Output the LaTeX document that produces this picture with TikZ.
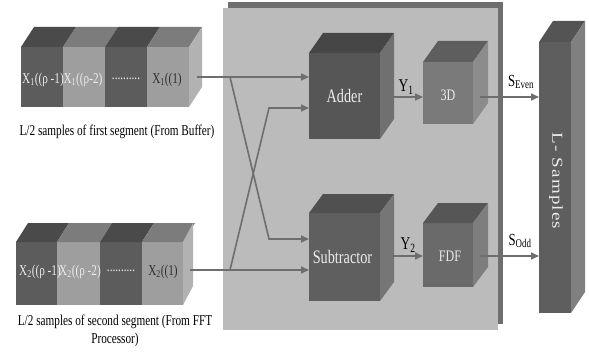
\documentclass[tikz,border=0pt]{standalone}
\usepackage{fontspec}
\usepackage{graphicx}
\setmainfont{Liberation Serif}[FakeStretch=0.75]
\newfontfamily\plainserif{Liberation Serif}[LetterSpace=6]
\usetikzlibrary{arrows.meta,calc}
\definecolor{framefront}{HTML}{BBBBBB}
\definecolor{frameback}{HTML}{6E6E6E}
\definecolor{segdark}{HTML}{5C5C5C}
\definecolor{seglight}{HTML}{9E9E9E}
\definecolor{segdarktop}{HTML}{4A4A4A}
\definecolor{seglighttop}{HTML}{7C7C7C}
\definecolor{segside}{HTML}{B2B2B2}
\definecolor{addfront}{HTML}{565656}
\definecolor{addtop}{HTML}{464646}
\definecolor{addside}{HTML}{707070}
\definecolor{subfront}{HTML}{5F5F5F}
\definecolor{subtop}{HTML}{505050}
\definecolor{subside}{HTML}{767676}
\definecolor{tdfront}{HTML}{7A7A7A}
\definecolor{tdtop}{HTML}{5E5E5E}
\definecolor{tdside}{HTML}{8C8C8C}
\definecolor{fdffront}{HTML}{6A6A6A}
\definecolor{fdftop}{HTML}{565656}
\definecolor{fdfside}{HTML}{7E7E7E}
\definecolor{lfront}{HTML}{5E5E5E}
\definecolor{ltop}{HTML}{545454}
\definecolor{lside}{HTML}{808080}
\definecolor{arrowgray}{HTML}{6E6E6E}
\definecolor{lighttext}{HTML}{ECECEC}
\definecolor{darktext}{HTML}{2E2E2E}
\newcommand\topface[4]{%
  \fill[#4] (#1.north west) -- ++(#2,#3) -- ([shift={(#2,#3)}]#1.north east) -- (#1.north east) -- cycle;}
\newcommand\sideface[4]{%
  \fill[#4] (#1.north east) -- ++(#2,#3) -- ([shift={(#2,#3)}]#1.south east) -- (#1.south east) -- cycle;}
\begin{document}
\begin{tikzpicture}[x=1pt,y=-1pt,
  face/.style={rectangle,inner sep=0pt,outer sep=0pt,anchor=north west,draw=none},
  segtext/.style={inner sep=0pt,font=\fontsize{15}{15}\selectfont},
  boxtext/.style={text=lighttext,font=\fontsize{19}{19}\selectfont},
  lbl/.style={inner sep=0pt,text=black,font=\fontsize{15}{18}\selectfont,align=center},
  sig/.style={inner sep=0pt,text=black,font=\fontsize{18}{18}\selectfont},
  arr/.style={draw=arrowgray,line width=1.6pt,-{Triangle[length=8pt,width=7pt]}},
  wire/.style={draw=arrowgray,line width=1.6pt}]
\useasboundingbox (0,0) rectangle (589,353);
\fill[white] (0,0) rectangle (589,353);

% big frame (3D slab)
\fill[frameback] (228,2) rectangle (503,324);
\node[face,fill=framefront,minimum width=275,minimum height=322] (frame) at (223,8) {};

% stack 1
\node[face,fill=segdark,minimum width=42,minimum height=60] (s11) at (21,47) {};
\node[face,fill=seglight,minimum width=42,minimum height=60] (s12) at (63,47) {};
\node[face,fill=segdark,minimum width=42,minimum height=60] (s13) at (105,47) {};
\node[face,fill=seglight,minimum width=42,minimum height=60] (s14) at (147,47) {};
\topface{s11}{13}{-20}{segdarktop}
\topface{s12}{13}{-20}{seglighttop}
\topface{s13}{13}{-20}{segdarktop}
\topface{s14}{13}{-20}{seglighttop}
\sideface{s14}{13}{-20}{segside}
\node[segtext,text=lighttext] (t11) at (43,80) {X\textsubscript{1}((ρ -1)};
\node[segtext,text=lighttext] (t12) at (83,80) {X\textsubscript{1}((ρ-2)};
\node[segtext,text=lighttext] (t13) at (126,79) {..........};
\node[segtext,text=darktext] (t14) at (167,80) {X\textsubscript{1}((1)};
\node[lbl] (lab1) at (117,132) {L/2 samples of first segment (From Buffer)};

% stack 2
\node[face,fill=segdark,minimum width=41,minimum height=63] (s21) at (16,242) {};
\node[face,fill=seglight,minimum width=43,minimum height=63] (s22) at (57,242) {};
\node[face,fill=segdark,minimum width=42,minimum height=63] (s23) at (100,242) {};
\node[face,fill=seglight,minimum width=41,minimum height=63] (s24) at (142,242) {};
\topface{s21}{12}{-19}{segdarktop}
\topface{s22}{12}{-19}{seglighttop}
\topface{s23}{12}{-19}{segdarktop}
\topface{s24}{12}{-19}{seglighttop}
\sideface{s24}{10}{-19}{segside}
\node[segtext,text=lighttext] (t21) at (40,272) {X\textsubscript{2}((ρ -1)};
\node[segtext,text=lighttext] (t22) at (80,272) {X\textsubscript{2}((ρ -2)};
\node[segtext,text=lighttext] (t23) at (121,271) {..........};
\node[segtext,text=darktext] (t24) at (163,272) {X\textsubscript{2}((1)};
\node[lbl] (lab2) at (115,331) {L/2 samples of second segment (From FFT\\Processor)};

% adder
\node[face,fill=addfront,minimum width=71,minimum height=86] (adder) at (309,53) {};
\topface{adder}{14}{-20}{addtop}
\sideface{adder}{14}{-20}{addside}
\node[boxtext] at (adder.center) {Adder};

% subtractor
\node[face,fill=subfront,minimum width=71,minimum height=88] (sub) at (309,213) {};
\topface{sub}{14}{-19}{subtop}
\sideface{sub}{14}{-19}{subside}
\node[boxtext] at ($(sub.center)+(-2,0)$) {Subtractor};

% 3D
\node[face,fill=tdfront,minimum width=50,minimum height=62] (td) at (423,62) {};
\topface{td}{15}{-21}{tdtop}
\sideface{td}{15}{-21}{tdside}
\node[boxtext,font=\fontsize{16}{16}\selectfont] at ($(td.center)+(0,2)$) {3D};

% FDF
\node[face,fill=fdffront,minimum width=50,minimum height=64] (fdf) at (423,223) {};
\topface{fdf}{15}{-20}{fdftop}
\sideface{fdf}{15}{-20}{fdfside}
\node[boxtext,font=\fontsize{16}{16}\selectfont] at ($(fdf.center)+(2,1)$) {FDF};

% L samples
\node[face,fill=lfront,minimum width=32,minimum height=271] (ls) at (539,42) {};
\topface{ls}{14}{-21}{ltop}
\sideface{ls}{14}{-21}{lside}
\node[text=lighttext,rotate=-90,inner sep=0pt] at (556,181) {\scalebox{1}[0.8]{\plainserif\fontsize{19}{19}\selectfont L- Samples}};

% connectors
\coordinate (o1) at (197,77);
\coordinate (b1) at (230,77);
\coordinate (c1) at (269,239);
\coordinate (o2) at (190,270);
\coordinate (b2) at (230,270);
\coordinate (c2) at (269,108);
\draw[arr] (o1) -- (o1 -| adder.west);
\draw[arr] (b1) -- (c1) -- (c1 -| sub.west);
\draw[arr] (o2) -- (o2 -| sub.west);
\draw[arr] (b2) -- (c2) -- (c2 -| adder.west);

\coordinate (a1) at (392,97);
\coordinate (a2) at (392,256);
\coordinate (a3) at (480,97);
\coordinate (a4) at (480,256);
\draw[arr] (a1) -- (a1 -| td.west);
\draw[arr] (a2) -- (a2 -| fdf.west);
\draw[arr] (a3) -- (a3 -| ls.west);
\draw[arr] (a4) -- (a4 -| ls.west);

\node[sig] (y1) at (406,87) {Y\textsubscript{1}};
\node[sig] (y2) at (408,245) {Y\textsubscript{2}};
\node[sig,font=\fontsize{17}{17}\selectfont] (se) at (521,82) {S\textsubscript{Even}};
\node[sig,font=\fontsize{17}{17}\selectfont] (so) at (520,241) {S\textsubscript{Odd}};
\end{tikzpicture}
\end{document}
